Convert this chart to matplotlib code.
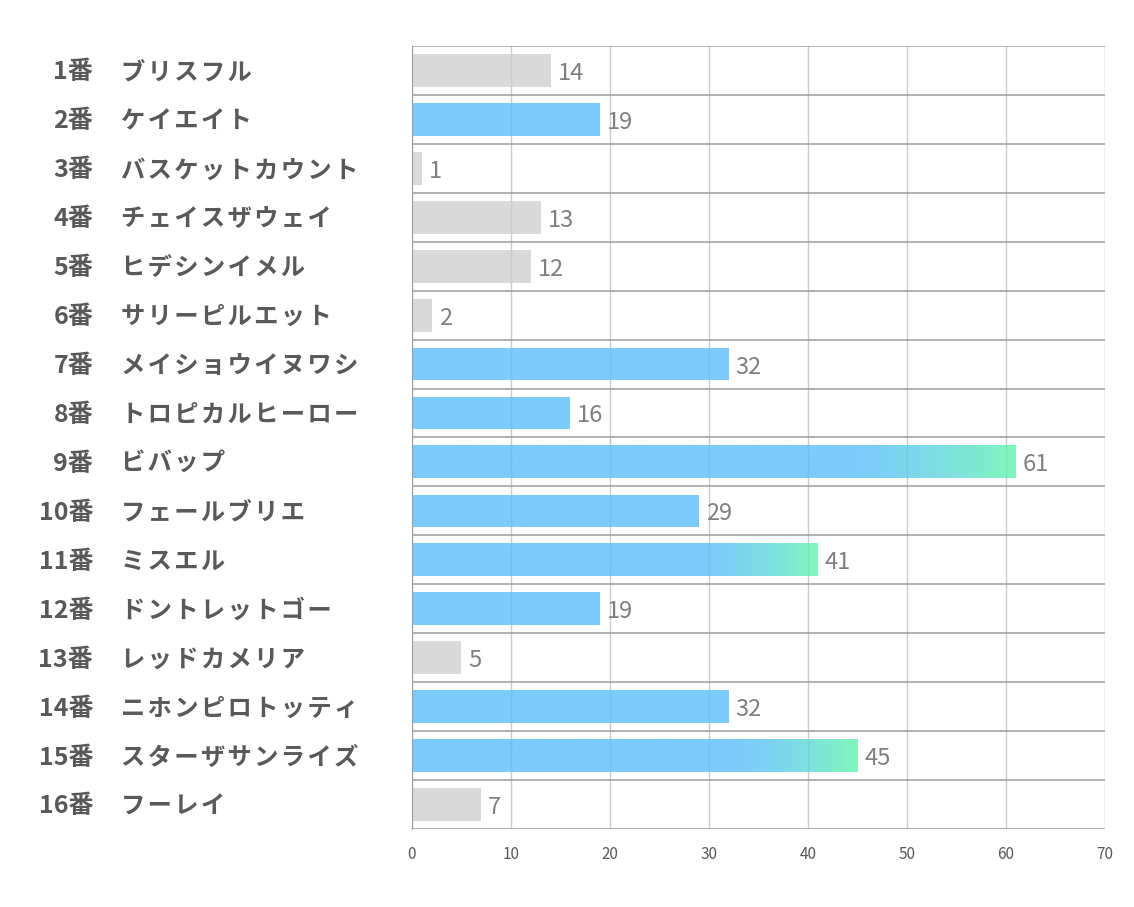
import numpy as np
import matplotlib
matplotlib.use("Agg")
from matplotlib import pyplot as plt
from matplotlib.colors import LinearSegmentedColormap

plt.rcParams['font.family'] = ['Noto Sans CJK JP', 'DejaVu Sans']

# data
numbers = ['1番', '2番', '3番', '4番', '5番', '6番', '7番', '8番',
           '9番', '10番', '11番', '12番', '13番', '14番', '15番', '16番']
names = ['ブリスフル', 'ケイエイト', 'バスケットカウント', 'チェイスザウェイ',
         'ヒデシンイメル', 'サリーピルエット', 'メイショウイヌワシ', 'トロピカルヒーロー',
         'ビバップ', 'フェールブリエ', 'ミスエル', 'ドントレットゴー',
         'レッドカメリア', 'ニホンピロトッティ', 'スターザサンライズ', 'フーレイ']
values = [14, 19, 1, 13, 12, 2, 32, 16, 61, 29, 41, 19, 5, 32, 45, 7]
# 0 = gray, 1 = blue, 2 = blue with gradient
kind = [0, 1, 0, 0, 0, 0, 1, 1, 2, 1, 2, 1, 0, 1, 2, 0]
xticks = [0, 10, 20, 30, 40, 50, 60, 70]

GRAY = '#d9d9d9'
BLUE = '#7ccbfd'
GREEN = '#80f7bb'
grad = LinearSegmentedColormap.from_list('bg', [BLUE, GREEN])

fig = plt.figure(figsize=(11.34, 9.07), dpi=100)
ax = fig.add_axes([0.3633, 0.0860, 0.6111, 0.8633])

n = len(values)
h = 0.67

for x in xticks:
    ax.axvline(x, color='#d9d9d9', lw=1, zorder=1)
    # faint line showing through the bars
    ax.axvline(x, color='#000000', lw=1, alpha=0.05, zorder=3)
for b in np.arange(n + 1) - 0.5:
    ax.axhline(b, color='#a6a6a6', lw=1.2, zorder=1)

for i, v in enumerate(values):
    if kind[i] == 0:
        ax.barh(i, v, height=h, color=GRAY, zorder=2)
    elif kind[i] == 1:
        ax.barh(i, v, height=h, color=BLUE, zorder=2)
    else:
        # whole bar as one image: plain blue, then blue -> green over the last 30%
        t = np.linspace(0, 1, 512)
        g = np.clip((t - 0.7) / 0.3, 0, 1) ** 1.6
        ax.imshow(g.reshape(1, -1), cmap=grad, aspect='auto', zorder=2,
                  vmin=0, vmax=1, extent=(0, v, i + h / 2, i - h / 2))
    ax.text(v + 0.7, i + 0.06, str(v), va='center', ha='left', fontsize=17,
            color='#7f7f7f', zorder=4)

ax.set_xlim(0, 70)
ax.set_ylim(n - 0.5, -0.5)

tr = ax.get_yaxis_transform()
for i in range(n):
    ax.text(-0.4603, i + 0.04, numbers[i], transform=tr, ha='right', va='center',
            fontsize=18, fontweight='bold', color='#595959')
    ax.text(-0.4199, i + 0.04, '\u200a'.join(names[i]), transform=tr, ha='left',
            va='center', fontsize=17.5, fontweight='bold', color='#595959')

ax.set_yticks([])
ax.set_xticks(xticks)
ax.tick_params(axis='x', length=0, labelsize=11, labelcolor='#595959', pad=12)
for s in ['top', 'right', 'bottom']:
    ax.spines[s].set_visible(False)
ax.spines['left'].set_color('#a6a6a6')

fig.savefig('out.png', dpi=100)
